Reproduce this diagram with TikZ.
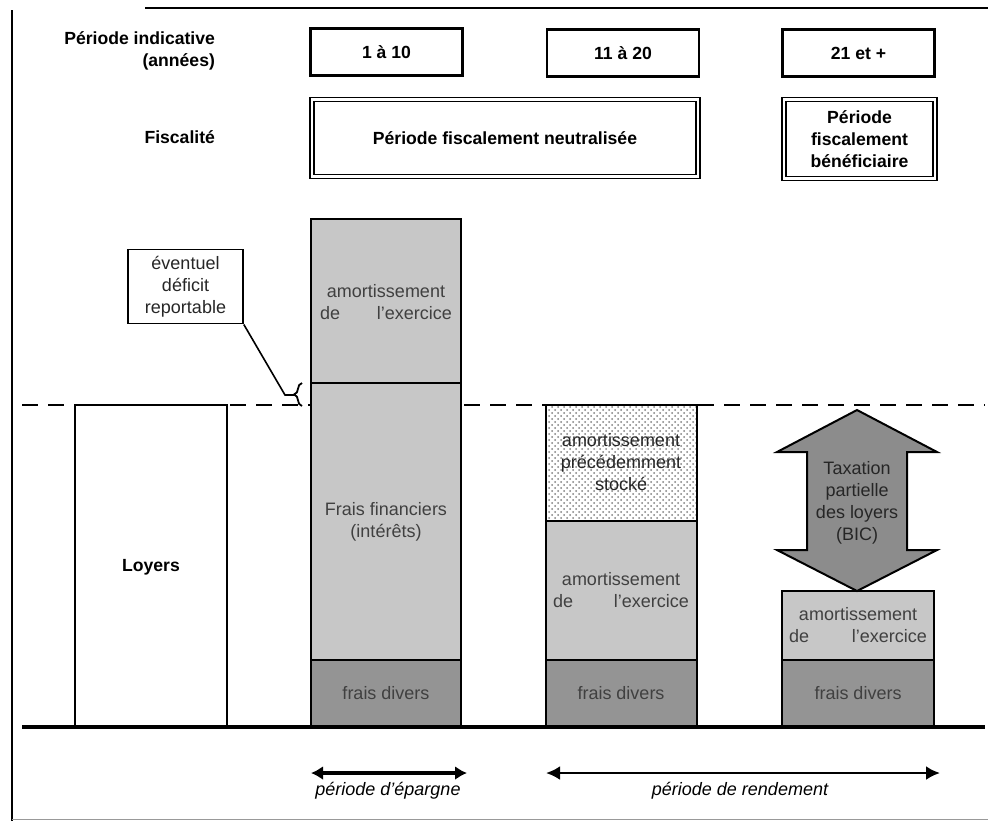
\documentclass[tikz,border=0pt]{standalone}
\usepackage{fontspec}
\setmainfont{Liberation Sans}
\usetikzlibrary{arrows.meta,patterns,decorations.pathreplacing}

\newcommand{\amortex}[1]{amortissement\\\makebox[#1]{de\hfill l'exercice}}

\tikzset{
  hdr/.style={font=\fontsize{8.8}{11}\selectfont\bfseries},
  yearbox/.style={draw,line width=1.2pt,minimum width=76pt,minimum height=23.5pt,hdr},
  fiscbox/.style={draw,line width=0.6pt,double,double distance=1.4pt,hdr,align=center},
  bartext/.style={font=\fontsize{9}{11}\selectfont,text=black!75,align=center},
  seg/.style={draw,line width=0.9pt},
  light/.style={seg,fill=black!22},
  dark/.style={seg,fill=black!42},
  period/.style={font=\fontsize{9}{10}\selectfont\itshape}
}

\begin{document}
\begin{tikzpicture}[x=0.5pt,y=-0.5pt]
\useasboundingbox (0,0) rectangle (988,821);
% cadre
\draw[line width=1pt] (12,10) -- (12,821);
\draw[line width=1pt] (145,8) -- (988,8);
\draw[line width=0.5pt,black!40] (12,819) -- (988,819);

% en-tetes
\node[hdr,anchor=east,align=right] (per) at (222,51) {P\'eriode indicative\\(ann\'ees)};
\node[hdr,anchor=east] (fis) at (222,137) {Fiscalit\'e};
\node[yearbox] (y1) at (386.5,52) {1 \`a 10};
\node[yearbox] (y2) at (623,53) {11 \`a 20};
\node[yearbox] (y3) at (858.5,53) {21 et +};
\node[fiscbox,minimum width=193pt,minimum height=38.5pt] (neu) at (505,138) {P\'eriode fiscalement neutralis\'ee};
\node[fiscbox,minimum width=75.5pt,minimum height=39.5pt] (ben) at (859.5,139) {P\'eriode\\fiscalement\\b\'en\'eficiaire};

% niveau des loyers et axe
\coordinate (dl) at (22,405);
\coordinate (dr) at (985,405);
\draw[line width=1.2pt,dash pattern=on 8pt off 5pt] (dl) -- (dr);

% barre des loyers
\draw[seg,line width=1.2pt,fill=white] (75,405) rectangle (227,727);
\node[hdr] (loy) at (151,567) {Loyers};

% barre 1
\draw[light] (311,219) rectangle (461,383);
\draw[light] (311,383) rectangle (461,660);
\draw[dark] (311,660) rectangle (461,727);
\draw[line width=1.3pt] (311,219) rectangle (461,727);
\node[bartext] (am1) at (386,302) {\amortex{66pt}};
\node[bartext] (ff) at (386,522) {Frais financiers\\(int\'er\^ets)};
\node[bartext] (fd1) at (386,693) {frais divers};

% barre 2
\fill[white] (546,405) rectangle (697,521);
\fill[pattern=crosshatch dots,pattern color=black!50] (546,405) rectangle (697,521);
\draw[seg] (546,405) rectangle (697,521);
\draw[light] (546,521) rectangle (697,660);
\draw[dark] (546,660) rectangle (697,727);
\draw[line width=1.3pt] (546,405) rectangle (697,727);
\node[bartext,text=black!85] (st) at (621,462) {amortissement\\pr\'ec\'edemment\\stock\'e};
\node[bartext] (am2) at (621,590) {\amortex{68pt}};
\node[bartext] (fd2) at (621,693) {frais divers};

% barre 3
\draw[light] (782,591) rectangle (934,660);
\draw[dark] (782,660) rectangle (934,727);
\draw[line width=1.3pt] (782,591) rectangle (934,727);
\node[bartext] (am3) at (858,625) {\amortex{69pt}};
\node[bartext] (fd3) at (858,693) {frais divers};

% fleche de taxation
\draw[line width=1pt,fill=black!45] (857,410) -- (937,452) -- (907,452) -- (907,550)
  -- (937,550) -- (857,591) -- (777,550) -- (807,550) -- (807,452) -- (777,452) -- cycle;
\node[bartext,text=black!85] (tax) at (857,503) {Taxation\\partielle\\des loyers\\(BIC)};

% axe
\coordinate (bl) at (22,727);
\coordinate (br) at (985,727);
\draw[line width=1.6pt] (bl) -- (br);

% deficit reportable
\node[draw,line width=0.8pt,minimum width=57.5pt,minimum height=36.5pt,bartext,text=black!85] (def) at (185.5,286.5) {\'eventuel\\d\'eficit\\reportable};
\draw[line width=0.9pt,decorate,decoration={brace,amplitude=4pt}] (302,406) -- (302,383);
\coordinate (kink) at (285,395);
\coordinate (brc) at (295,395);
\draw[line width=0.8pt] (def.south east) -- (kink) -- (brc);

% periodes
\coordinate (e1) at (311,773);
\coordinate (e2) at (467,773);
\coordinate (r1) at (546,773);
\coordinate (r2) at (940,773);
\draw[line width=2.2pt,{Latex[length=6pt,width=7pt]}-{Latex[length=6pt,width=7pt]}] (e1) -- (e2);
\draw[line width=1.3pt,{Latex[length=7pt,width=7pt]}-{Latex[length=7pt,width=7pt]}] (r1) -- (r2);
\node[period] (ep) at (388,791) {p\'eriode d'\'epargne};
\node[period] (re) at (740,791) {p\'eriode de rendement};
\end{tikzpicture}
\end{document}
